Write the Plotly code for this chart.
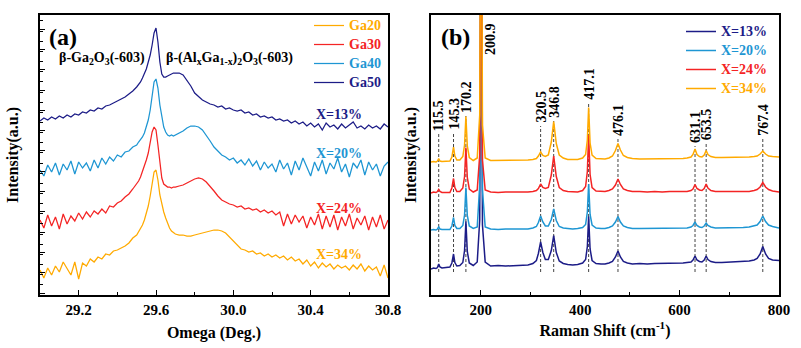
import plotly.graph_objects as go

# ---------------- Panel (a): omega scans ----------------
omega = [29.00, 29.02, 29.04, 29.06, 29.08, 29.10, 29.12, 29.14, 29.16, 29.18,
         29.20, 29.22, 29.24, 29.26, 29.28, 29.30, 29.32, 29.34, 29.36, 29.38,
         29.40, 29.42, 29.44, 29.46, 29.48, 29.50,
         29.51, 29.52, 29.53, 29.54, 29.55, 29.56, 29.57, 29.58, 29.59, 29.60,
         29.61, 29.62, 29.63, 29.64, 29.65, 29.66, 29.67, 29.68, 29.69, 29.70,
         29.72, 29.74, 29.76, 29.78, 29.80, 29.82, 29.84, 29.86, 29.88, 29.90,
         29.92, 29.94, 29.96, 29.98, 30.00, 30.02, 30.04, 30.06, 30.08, 30.10,
         30.12, 30.14, 30.16, 30.18, 30.20, 30.22, 30.24, 30.26, 30.28, 30.30,
         30.32, 30.34, 30.36, 30.38, 30.40, 30.42, 30.44, 30.46, 30.48, 30.50,
         30.52, 30.54, 30.56, 30.58, 30.60, 30.62, 30.64, 30.66, 30.68, 30.70,
         30.72, 30.74, 30.76, 30.78, 30.80]

ga50 = [174, 177, 175, 178, 176, 179, 177, 180, 178, 181,
        180, 183, 182, 185, 184, 187, 186, 189, 190, 192,
        194, 196, 198, 201, 204, 208,
        210, 213, 217, 221, 226, 233, 240, 250, 262, 267,
        253, 233, 221, 218, 218, 219, 220, 221, 222, 222,
        222, 220, 215, 209, 202, 198, 195, 193, 191, 190,
        188, 189, 186, 187, 185, 184, 185, 182, 183, 180,
        181, 178, 179, 177, 178, 175, 176, 174, 175, 172,
        174, 171, 173, 169, 172, 168, 171, 165, 172, 168,
        170, 166, 171, 167, 170, 173, 167, 169, 166, 170,
        167, 169, 166, 171, 168]

ga40 = [125, 119, 130, 123, 132, 120, 131, 125, 134, 121,
        133, 127, 132, 124, 135, 127, 137, 131, 138, 134,
        140, 138, 143, 144, 148, 150,
        153, 155, 158, 162, 168, 175, 185, 199, 213, 216,
        207, 190, 177, 168, 163, 160, 159, 160, 159, 160,
        162, 164, 167, 169, 169, 168, 165, 160, 154, 148,
        144, 140, 138, 135, 137, 132, 135, 130, 136, 129,
        134, 125, 133, 127, 131, 123, 135, 126, 132, 120,
        134, 125, 137, 127, 119, 133, 124, 135, 121, 132,
        126, 137, 123, 131, 118, 132, 127, 135, 120, 133,
        125, 131, 119, 129, 133]

ga30 = [75, 67, 80, 69, 78, 66, 81, 71, 79, 74,
        82, 76, 83, 78, 84, 81, 86, 82, 89, 88,
        92, 94, 98, 101, 106, 111,
        114, 118, 123, 128, 135, 142, 152, 163, 168, 165,
        150, 132, 117, 111, 109, 108, 108, 107, 108, 108,
        109, 110, 112, 114, 116, 117, 116, 113, 109, 104,
        99, 95, 93, 91, 90, 88, 89, 86, 87, 85,
        86, 83, 85, 82, 84, 80, 83, 69, 81, 71,
        80, 73, 79, 67, 78, 70, 81, 66, 79, 68,
        80, 65, 78, 69, 81, 66, 77, 70, 79, 65,
        78, 68, 80, 66, 75]

ga20 = [25, 17, 27, 20, 29, 23, 33, 27, 20, 33,
        16, 32, 29, 36, 33, 38, 36, 41, 40, 44,
        45, 47, 49, 52, 57, 60,
        63, 66, 70, 75, 81, 89, 99, 112, 123, 125,
        115, 100, 90, 83, 77, 71, 67, 64, 62, 61,
        60, 60, 59, 59, 60, 61, 62, 63, 64, 65,
        65, 64, 62, 58, 53, 49, 46, 45, 43, 44,
        41, 42, 39, 41, 38, 40, 37, 39, 35, 38,
        34, 36, 31, 35, 29, 33, 27, 32, 28, 31,
        26, 30, 27, 29, 25, 30, 26, 31, 24, 29,
        25, 28, 19, 30, 17]

omega_names = ["Ga50", "Ga40", "Ga30", "Ga20"]
omega_labels = ["X=13%", "X=20%", "X=24%", "X=34%"]

# ---------------- Panel (b): Raman spectra ----------------
raman_shift = [100, 105, 110, 113, 115.5, 118, 122, 130, 138, 142,
               145.3, 148, 152, 158, 164, 167.5, 170.2, 173, 177, 185,
               193, 198, 200.9, 203.5, 209, 220, 235, 250, 265, 280,
               295, 305, 312, 316, 320.5, 325, 330, 336, 342, 346.8,
               352, 358, 366, 375, 385, 395, 405, 411, 414.5, 417.1,
               420, 424, 432, 442, 450, 458, 465, 471, 476.1, 481,
               487, 495, 505, 520, 535, 550, 565, 580, 595, 607,
               615, 623, 627, 631.1, 635, 640, 645, 649.5, 653.5, 657,
               663, 672, 685, 700, 715, 728, 740, 750, 756, 762,
               767.4, 773, 779, 787, 795, 800]

x13 = [26, 27, 26.5, 27.5, 31, 28, 27, 27.5, 28, 32,
       41, 32.5, 29, 29.5, 32.5, 44.5, 73.5, 43.5, 32, 29.5,
       33, 75, 420, 70, 33, 29, 29.5, 29, 29.5, 29.5,
       30, 31.5, 34.5, 41.5, 53, 42.5, 35.5, 35.5, 44.5, 59.5,
       42.5, 34, 31.5, 30.5, 30, 30.5, 32, 35.5, 48.5, 78.5,
       46, 34.5, 31.5, 31, 31, 32, 33.5, 38, 44, 38,
       33.5, 32, 31, 31.5, 31, 31.5, 31.5, 31.5, 32, 32,
       32.5, 33, 35, 39, 35, 33.5, 33, 35, 39, 35.5,
       33.5, 32.5, 32.5, 33, 33, 33.5, 34, 35, 36.5, 41,
       48.5, 41, 36.5, 35, 34.5, 34.5]

x20 = [65, 65.5, 65, 66, 68, 66, 65.5, 65.5, 65.5, 69,
       77.5, 69.5, 66.5, 66.5, 69.5, 80, 107.5, 79.5, 69, 66.5,
       68, 110, 460, 105, 68, 66, 65.5, 66, 66, 66,
       66, 67, 68.5, 72.5, 79, 73, 69, 69, 75.5, 86,
       74.5, 68.5, 67, 66.5, 66, 66.5, 67.5, 70.5, 83, 111,
       80.5, 70, 67, 66.5, 66.5, 67.5, 69, 73, 78.5, 73,
       69, 67.5, 66.5, 66.5, 66.5, 66.5, 66.5, 67, 67, 67,
       67, 68, 69.5, 73, 69.5, 68, 67.5, 69, 72, 69.5,
       68, 67, 67, 67, 67, 67.5, 68, 69, 70, 73.5,
       79, 73.5, 70, 68.5, 67.5, 67]

x24 = [102, 103, 102.5, 103.5, 105.5, 103.5, 102.5, 102.5, 102.5, 107,
       116.5, 107.5, 103.5, 103.5, 107, 118.5, 147.5, 117.5, 106, 103,
       105, 140, 480, 135, 105, 103, 102.5, 103, 103, 102.5,
       103, 103.5, 104.5, 106.5, 111, 107.5, 106.5, 107.5, 120, 139,
       118.5, 107.5, 104.5, 103.5, 103, 103, 104.5, 108.5, 123.5, 160,
       120.5, 107.5, 104, 103.5, 103.5, 104.5, 106, 110, 116, 110.5,
       106, 104.5, 103.5, 103.5, 103, 103.5, 103, 103.5, 103.5, 103.5,
       103.5, 104.5, 106, 110.5, 106.5, 105, 104.5, 106.5, 111, 107,
       104.5, 103.5, 103.5, 103.5, 103, 103.5, 103.5, 104.5, 105.5, 108,
       112.5, 108, 105.5, 104, 103.5, 103]

x34 = [133, 133.5, 133, 134, 136.5, 134, 133.5, 133.5, 134, 138,
       148, 139, 135, 135, 138.5, 150, 178.5, 149, 137.5, 134.5,
       137, 180, 520, 170, 137, 134.5, 134.5, 134.5, 134.5, 135,
       135, 135.5, 136.5, 139, 143, 139.5, 138.5, 140, 153, 173.5,
       151.5, 140, 137, 135.5, 135.5, 135.5, 137, 140.5, 155, 187.5,
       152, 140, 136.5, 136, 136, 137, 139, 144.5, 151.5, 145,
       139.5, 137.5, 136.5, 136, 136, 136, 136.5, 136.5, 136.5, 136.5,
       137, 138, 140.5, 146, 140.5, 138.5, 138, 140, 144.5, 140.5,
       138.5, 137.5, 137.5, 137.5, 137.5, 137.5, 138, 138.5, 139, 141,
       144, 141, 139, 138.5, 138, 138]

raman_names = ["X=13%", "X=20%", "X=24%", "X=34%"]

peak_pos = [115.5, 145.3, 170.2, 320.5, 346.8, 417.1, 476.1, 631.1, 653.5, 767.4]
peak_text = ["115.5", "145.3", "170.2", "320.5", "346.8", "417.1", "476.1", "631.1", "653.5", "767.4"]
peak_label_base = [162, 163, 180, 170, 175, 193, 157, 150, 153, 157]
dash_floor = 23

# ---------------- Styling ----------------
colors = ["#1C1C87", "#1E96D3", "#F42424", "#FFAA00"]
SERIF = "'Liberation Serif', 'Times New Roman', Times, serif"

fig = go.Figure()

# panel (a) curves: navy first, orange on top
for name, ys, col in zip(omega_names, [ga50, ga40, ga30, ga20], colors):
    fig.add_trace(go.Scatter(
        x=omega, y=ys, mode="lines", line=dict(color=col, width=1.25),
        name=f"<b><span style='font-size:14px;color:{col}'>{name}</span></b>",
        legend="legend", xaxis="x", yaxis="y", hoverinfo="skip"))

# panel (b) dashed guide lines
for p, top in zip(peak_pos, peak_label_base):
    fig.add_trace(go.Scatter(
        x=[p, p], y=[dash_floor, top - 1], mode="lines",
        line=dict(color="#444444", width=1, dash="3px,2px"),
        showlegend=False, xaxis="x2", yaxis="y2", hoverinfo="skip"))

for name, ys, col in zip(raman_names, [x13, x20, x24, x34], colors):
    fig.add_trace(go.Scatter(
        x=raman_shift, y=ys, mode="lines", line=dict(color=col, width=1.5),
        name=f"<b><span style='font-size:14px;color:{col}'>{name}</span></b>",
        legend="legend2", xaxis="x2", yaxis="y2", hoverinfo="skip"))

W, H = 801, 348
ydom = [1 - 295 / H, 1 - 15 / H]

annotations = [
    dict(x=29.12, y=258, xref="x", yref="y", text="<b>(a)</b>", showarrow=False,
         font=dict(family=SERIF, size=24, color="black")),
    dict(x=29.323, y=237, xref="x", yref="y",
         text="<b>β-Ga<sub>2</sub>O<sub>3</sub>(-603)</b>", showarrow=False,
         font=dict(family=SERIF, size=14, color="black")),
    dict(x=29.98, y=237, xref="x", yref="y",
         text="<b>β-(Al<sub>x</sub>Ga<sub>1-x</sub>)<sub>2</sub>O<sub>3</sub>(-603)</b>",
         showarrow=False, font=dict(family=SERIF, size=14, color="black")),
    dict(x=150, y=258, xref="x2", yref="y2", text="<b>(b)</b>", showarrow=False,
         font=dict(family=SERIF, size=24, color="black")),
    dict(x=218.5, y=256, xref="x2", yref="y2", text="<b>200.9</b>", showarrow=False,
         textangle=-90, font=dict(family=SERIF, size=14, color="black")),
]
label_y = [181, 142, 87, 41]
for txt, yv, col in zip(omega_labels, label_y, colors):
    annotations.append(dict(x=30.544, y=yv, xref="x", yref="y", text=f"<b>{txt}</b>",
                            showarrow=False, font=dict(family=SERIF, size=14, color=col)))
for p, txt, base in zip(peak_pos, peak_text, peak_label_base):
    annotations.append(dict(x=p, y=base, xref="x2", yref="y2", text=f"<b>{txt}</b>",
                            showarrow=False, textangle=-90, yanchor="bottom",
                            font=dict(family=SERIF, size=14, color="black")))

tickfont = dict(family=SERIF, size=15, color="black", weight="bold")
titlefont = dict(family=SERIF, size=16, color="black", weight="bold")

fig.update_layout(
    width=W, height=H, margin=dict(l=0, r=0, t=0, b=0),
    paper_bgcolor="white", plot_bgcolor="white",
    font=dict(family=SERIF, color="black"),
    showlegend=True,
    xaxis=dict(domain=[40 / W, 388 / W], range=[29.0, 30.8], anchor="y",
               tick0=29.2, dtick=0.4, tickformat=".1f", ticks="inside", ticklen=5,
               tickcolor="black", minor=dict(ticks="inside", dtick=0.2, ticklen=3, tickcolor="black"),
               showgrid=False, zeroline=False, showline=True, mirror=True,
               linecolor="black", linewidth=1.5, tickfont=tickfont, automargin=False,
               title=dict(text="Omega (Deg.)", font=titlefont, standoff=10)),
    yaxis=dict(domain=ydom, range=[0, 280], anchor="x", showticklabels=False,
               ticks="inside", tick0=2, dtick=20.3, ticklen=5, tickcolor="black",
               minor=dict(ticks="inside", dtick=10.15, ticklen=3, tickcolor="black"),
               showgrid=False, zeroline=False, showline=True, mirror=True,
               linecolor="black", linewidth=1.5, automargin=False,
               title=dict(text="Intensity(a.u.)", font=titlefont, standoff=16)),
    xaxis2=dict(domain=[431 / W, 779 / W], range=[100, 800], anchor="y2",
                tick0=0, dtick=200, ticks="inside", ticklen=5, tickcolor="black",
                minor=dict(ticks="inside", dtick=100, ticklen=3, tickcolor="black"),
                showgrid=False, zeroline=False, showline=True, mirror=True,
                linecolor="black", linewidth=2, tickfont=tickfont, automargin=False,
                title=dict(text="Raman Shift (cm<sup>-1</sup>)", font=titlefont, standoff=8)),
    yaxis2=dict(domain=ydom, range=[0, 280], anchor="x2", showticklabels=False,
                ticks="", showgrid=False, zeroline=False, showline=True, mirror=True,
                linecolor="black", linewidth=2, automargin=False,
                title=dict(text="Intensity(a.u.)", font=titlefont, standoff=8)),
    legend=dict(x=309 / W, y=1 - 11 / H, xanchor="left", yanchor="top",
                bgcolor="rgba(0,0,0,0)", traceorder="reversed", tracegroupgap=0,
                font=dict(family=SERIF, size=12), itemwidth=30),
    legend2=dict(x=681 / W, y=1 - 17 / H, xanchor="left", yanchor="top",
                 bgcolor="rgba(0,0,0,0)", traceorder="normal", tracegroupgap=0,
                 font=dict(family=SERIF, size=12), itemwidth=30),
    annotations=annotations,
)

fig.write_html("out.html")
